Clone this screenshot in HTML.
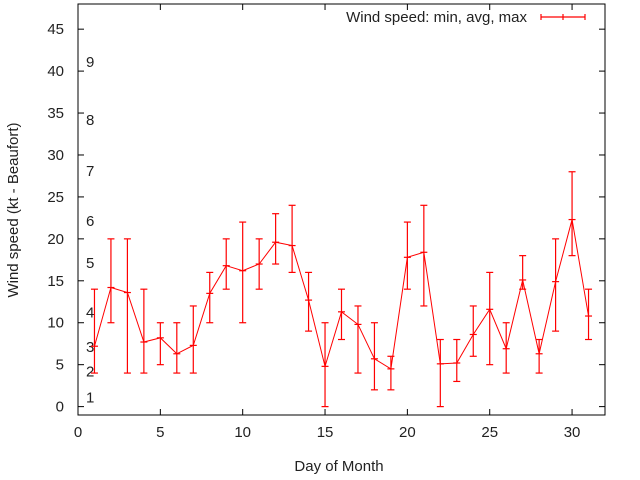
<!DOCTYPE html>
<html><head><meta charset="utf-8"><style>
body{margin:0;background:#fff}
svg{display:block;font-family:"Liberation Sans",sans-serif;font-size:14px}
</style></head><body>
<svg id="c" width="640" height="480" xmlns="http://www.w3.org/2000/svg">
<g id="g"></g>
<text x="339" y="471" text-anchor="middle" fill="#222" style="font-size:15px">Day of Month</text>
<text transform="translate(18,210) rotate(-90)" text-anchor="middle" fill="#222" style="font-size:15px">Wind speed (kt - Beaufort)</text>
<g>
<text x="527" y="22" text-anchor="end" fill="#222" style="font-size:15px">Wind speed: min, avg, max</text>
<g stroke="#f00" stroke-width="1.2"><line x1="541" x2="585" y1="17" y2="17"/><line x1="541" x2="541" y1="14" y2="20"/><line x1="585" x2="585" y1="14" y2="20"/><line x1="563" x2="563" y1="14" y2="20"/></g>
</g>
</svg>
<script>
const days=[1,2,3,4,5,6,7,8,9,10,11,12,13,14,15,16,17,18,19,20,21,22,23,24,25,26,27,28,29,30,31];
const avgs=[7.2,14.2,13.6,7.7,8.2,6.3,7.3,13.5,16.8,16.2,17,19.6,19.2,12.7,4.8,11.3,9.8,5.7,4.5,17.8,18.4,5.1,5.2,8.6,11.6,6.9,15.1,6.3,14.9,22.3,10.8];
const mins=[4,10,4,4,5,4,4,10,14,10,14,17,16,9,0,8,4,2,2,14,12,0,3,6,5,4,14,4,9,18,8];
const maxs=[14,20,20,14,10,10,12,16,20,22,20,23,24,16,10,14,12,10,6,22,24,8,8,12,16,10,18,8,20,28,14];
const xTicks=[0,5,10,15,20,25,30];
const yTicks=[0,5,10,15,20,25,30,35,40,45];
const beaufort=[[1,1.1],[2,4.2],[3,7.1],[4,11.2],[5,17.1],[6,22.1],[7,28.1],[8,34.2],[9,41.1]];
const L=78,R=605,T=4,B=415,X0=0,X1=32,Y0=-1,Y1=48;
const sx=v=>L+(v-X0)/(X1-X0)*(R-L), sy=v=>B-(v-Y0)/(Y1-Y0)*(B-T);
const g=document.getElementById('g'),NS='http://www.w3.org/2000/svg';
function mk(t,a,p){const e=document.createElementNS(NS,t);for(const k in a)e.setAttribute(k,a[k]);(p||g).appendChild(e);return e;}
let f=mk('rect',{x:L,y:T,width:R-L,height:B-T,fill:'none',stroke:'#000'});


xTicks.forEach(v=>{const x=sx(v);
 mk('line',{x1:x,x2:x,y1:B,y2:B-6,stroke:'#000'});mk('line',{x1:x,x2:x,y1:T,y2:T+6,stroke:'#000'});
 const t=mk('text',{x:x,y:B+22,'text-anchor':'middle',fill:'#222',style:'font-size:15px'});t.textContent=v;
 
 });
yTicks.forEach(v=>{const y=sy(v);
 mk('line',{x1:L,x2:L+6,y1:y,y2:y,stroke:'#000'});mk('line',{x1:R,x2:R-6,y1:y,y2:y,stroke:'#000'});
 const t=mk('text',{x:L-14,y:y+5,'text-anchor':'end',fill:'#222',style:'font-size:15px'});t.textContent=v;
 
 });
beaufort.forEach(b=>{const t=mk('text',{x:86,y:sy(b[1])+5,fill:'#222',style:'font-size:15px'});t.textContent=b[0];
 
 });
let pts=days.map((d,i)=>sx(d)+','+sy(avgs[i])).join(' ');
let ln=mk('polyline',{points:pts,fill:'none',stroke:'#f00'});


days.forEach((d,i)=>{const x=sx(d);const eg=mk('g',{stroke:'#f00','stroke-width':1.2});
 
 
 mk('line',{x1:x,x2:x,y1:sy(mins[i]),y2:sy(maxs[i])},eg);
 [mins[i],maxs[i],avgs[i]].forEach(v=>mk('line',{x1:x-3.5,x2:x+3.5,y1:sy(v),y2:sy(v)},eg));});
</script>
</body></html>
